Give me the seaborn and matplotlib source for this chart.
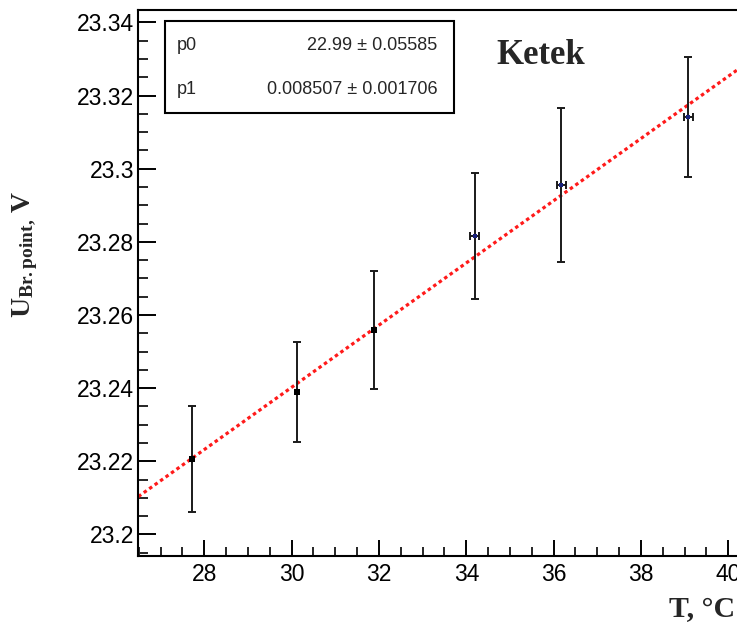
import numpy as np
import pandas as pd
import matplotlib
matplotlib.use("Agg")
import matplotlib.pyplot as plt
import seaborn as sns
from matplotlib.ticker import MultipleLocator, FuncFormatter
from matplotlib.patches import Rectangle

# ---- data ----
temperature = [27.72, 30.13, 31.89, 34.19, 36.18, 39.08]
u_breakdown = [23.2206, 23.2390, 23.2559, 23.2817, 23.2955, 23.3142]
u_err = [0.0145, 0.0137, 0.0162, 0.0172, 0.0210, 0.0164]
t_err = [0.0, 0.0, 0.0, 0.1, 0.1, 0.1]
fit_p0 = 22.985
fit_p1 = 0.008507
fit_range = [26.49, 41.0]
stat_names = ["p0", "p1"]
stat_values = ["22.99 \u00b1 0.05585", "0.008507 \u00b1 0.001706"]
title_text = "Ketek"

sns.set_theme(style="ticks")
plt.rcParams['font.family'] = ['Liberation Sans', 'DejaVu Sans']
plt.rcParams['mathtext.fontset'] = 'custom'
plt.rcParams['mathtext.rm'] = 'Liberation Serif:bold'
plt.rcParams['mathtext.bf'] = 'Liberation Serif:bold'
plt.rcParams['mathtext.it'] = 'Liberation Serif:bold'

W, H = 737, 627
fig = plt.figure(figsize=(W / 100, H / 100), dpi=100)
ax_l, ax_r, ax_t, ax_b = 138.3, 772.0, 10.0, 556.0
ax = fig.add_axes([ax_l / W, 1 - ax_b / H, (ax_r - ax_l) / W, (ax_b - ax_t) / H])

df = pd.DataFrame({"T": temperature, "U": u_breakdown})
fit_df = pd.DataFrame({"T": fit_range,
                       "U": [fit_p0 + fit_p1 * t for t in fit_range]})

# fit line
sns.lineplot(data=fit_df, x="T", y="U", ax=ax, color="#ff1a1a",
             linewidth=2.3, linestyle=(0, (1.1, 1.0)), zorder=2)

# error bars
ax.errorbar(temperature, u_breakdown, yerr=u_err, xerr=t_err, fmt="none",
            ecolor="#1a1a1a", elinewidth=1.4, capsize=2.8, capthick=1.4,
            zorder=3)
# markers
sns.scatterplot(data=df.iloc[:3], x="T", y="U", ax=ax, marker="s", s=18,
                color="black", edgecolor="black", linewidth=0, zorder=4)
sns.scatterplot(data=df.iloc[3:], x="T", y="U", ax=ax, marker="s", s=6,
                color="#1a237e", edgecolor="#1a237e", linewidth=0, zorder=4)

ax.set_xlim(26.49, 41.0)
ax.set_ylim(23.1941, 23.3434)
ax.set_xlabel("")
ax.set_ylabel("")

ax.xaxis.set_major_locator(MultipleLocator(2))
ax.xaxis.set_minor_locator(MultipleLocator(0.5))
ax.yaxis.set_major_locator(MultipleLocator(0.02))
ax.yaxis.set_minor_locator(MultipleLocator(0.005))
fmt = FuncFormatter(lambda v, p: "%g" % round(v, 4))
ax.xaxis.set_major_formatter(fmt)
ax.yaxis.set_major_formatter(fmt)

ax.tick_params(axis="y", which="major", direction="in", length=13, width=1.4,
               labelsize=16.5, pad=3, colors="black", left=True)
ax.tick_params(axis="y", which="minor", direction="in", length=7, width=1.4,
               left=True)
ax.tick_params(axis="x", which="major", direction="in", length=11.5, width=1.4,
               labelsize=16.5, pad=5, colors="black", bottom=True)
ax.tick_params(axis="x", which="minor", direction="in", length=6.5, width=1.4,
               bottom=True)
for s in ax.spines.values():
    s.set_linewidth(1.5)
    s.set_color("black")

# stats box (axes fraction coords from pixel positions)
def fx(px):
    return (px - ax_l) / (ax_r - ax_l)

def fy(py):
    return (ax_b - py) / (ax_b - ax_t)

ax.add_patch(Rectangle((fx(165.3), fy(112.7)), fx(454) - fx(165.3),
                       fy(21) - fy(112.7), transform=ax.transAxes,
                       facecolor="white", edgecolor="black", linewidth=1.5,
                       zorder=5))
for name, val, py in zip(stat_names, stat_values, [45.5, 89.0]):
    ax.text(fx(177), fy(py), name, transform=ax.transAxes, ha="left",
            va="center", fontsize=13, zorder=6)
    ax.text(fx(437.5), fy(py), val, transform=ax.transAxes, ha="right",
            va="center", fontsize=13, zorder=6)

ax.text(fx(540.5), fy(64), title_text, transform=ax.transAxes, ha="center",
        va="baseline", fontsize=25, fontweight="bold",
        family="Liberation Serif", zorder=6)

fig.text(25 / W, 1 - 255 / H, r"$\mathbf{U}_{\mathbf{Br{.}point{,}}}\;\mathbf{V}$",
         rotation=90, ha="center", va="center", fontsize=20)
fig.text(735 / W, 1 - 617 / H, "T, \u00b0C", ha="right", va="baseline",
         fontsize=21.5, fontweight="bold", family="Liberation Serif")

fig.savefig("out.png", dpi=100)
